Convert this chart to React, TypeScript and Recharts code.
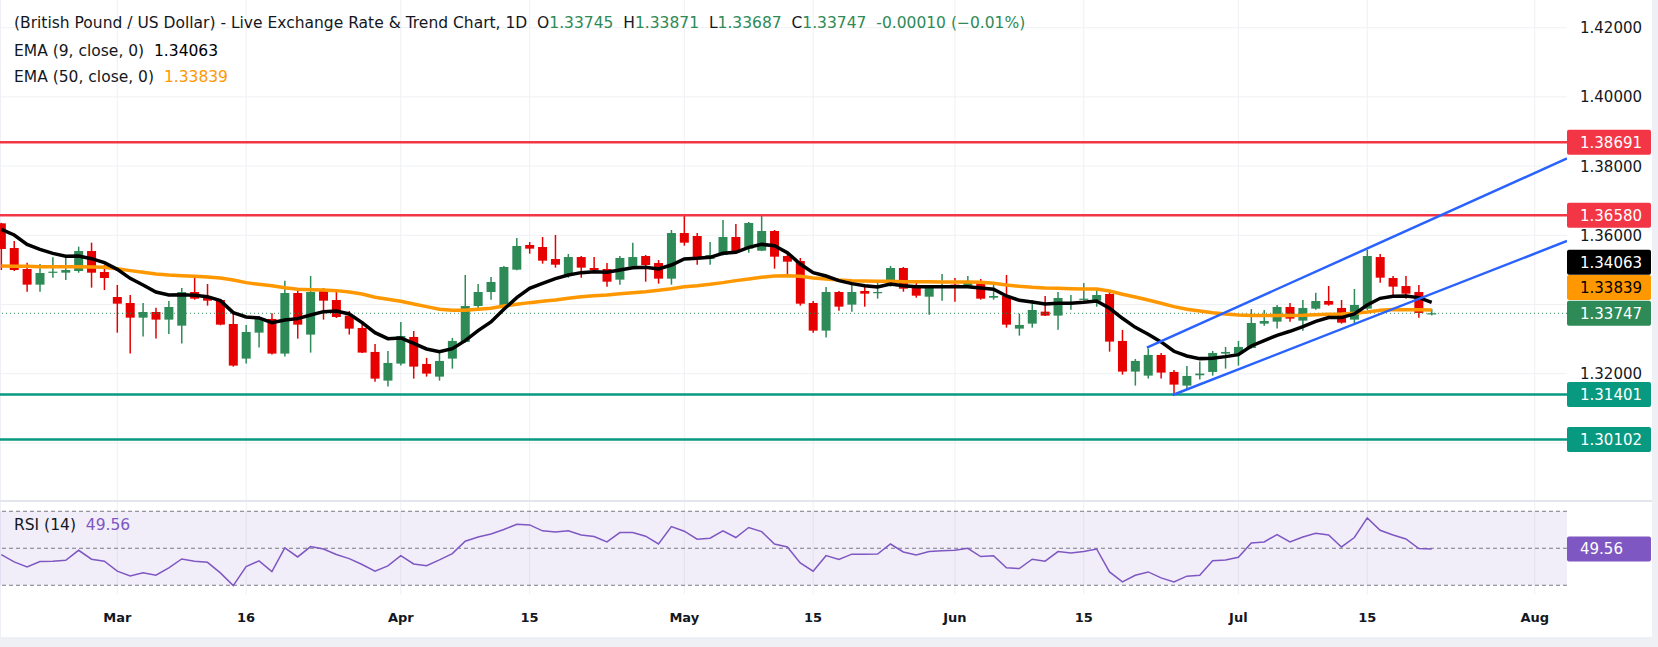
import React from 'react';
import { ComposedChart, Bar, Line, XAxis, YAxis, CartesianGrid, ReferenceLine, ReferenceArea } from 'recharts';

// daily bars, Feb 17 -> Jul 22
const dates = [
  'Feb 17', 'Feb 18', 'Feb 19', 'Feb 20', 'Feb 23', 'Feb 24', 'Feb 25', 'Feb 26', 'Feb 27',
  'Mar 2', 'Mar 3', 'Mar 4', 'Mar 5', 'Mar 6', 'Mar 9', 'Mar 10', 'Mar 11', 'Mar 12', 'Mar 13',
  'Mar 16', 'Mar 17', 'Mar 18', 'Mar 19', 'Mar 20', 'Mar 23', 'Mar 24', 'Mar 25', 'Mar 26', 'Mar 27',
  'Mar 30', 'Mar 31', 'Apr 1', 'Apr 2', 'Apr 3', 'Apr 6', 'Apr 7', 'Apr 8', 'Apr 9', 'Apr 10',
  'Apr 13', 'Apr 14', 'Apr 15', 'Apr 16', 'Apr 17', 'Apr 20', 'Apr 21', 'Apr 22', 'Apr 23', 'Apr 24',
  'Apr 27', 'Apr 28', 'Apr 29', 'Apr 30', 'May 1', 'May 4', 'May 5', 'May 6', 'May 7', 'May 8',
  'May 11', 'May 12', 'May 13', 'May 14', 'May 15', 'May 18', 'May 19', 'May 20', 'May 21', 'May 22',
  'May 25', 'May 26', 'May 27', 'May 28', 'May 29', 'Jun 1', 'Jun 2', 'Jun 3', 'Jun 4', 'Jun 5',
  'Jun 8', 'Jun 9', 'Jun 10', 'Jun 11', 'Jun 12', 'Jun 15', 'Jun 16', 'Jun 17', 'Jun 18', 'Jun 19',
  'Jun 22', 'Jun 23', 'Jun 24', 'Jun 25', 'Jun 26', 'Jun 29', 'Jun 30', 'Jul 1', 'Jul 2', 'Jul 3',
  'Jul 6', 'Jul 7', 'Jul 8', 'Jul 9', 'Jul 10', 'Jul 13', 'Jul 14', 'Jul 15', 'Jul 16', 'Jul 17',
  'Jul 20', 'Jul 21', 'Jul 22',
];

const opens = [
  1.36346, 1.35633, 1.35026, 1.34574, 1.3492, 1.3492, 1.34968, 1.35546, 1.34939, 1.34217,
  1.34044, 1.3362, 1.33784, 1.33563, 1.33389, 1.34361, 1.34207, 1.3413, 1.33437, 1.32436,
  1.33187, 1.33582, 1.32581, 1.34332, 1.3313, 1.3439, 1.3413, 1.33678, 1.33322, 1.32629,
  1.318, 1.32292, 1.33062, 1.32282, 1.31916, 1.32436, 1.32918, 1.33957, 1.34361, 1.33909,
  1.35007, 1.3572, 1.35662, 1.35315, 1.34862, 1.35372, 1.35055, 1.35026, 1.34718, 1.35094,
  1.35401, 1.35199, 1.34747, 1.36066, 1.3598, 1.35315, 1.3543, 1.35951, 1.35614, 1.35556,
  1.36124, 1.35401, 1.35257, 1.34044, 1.33245, 1.34361, 1.33996, 1.3439, 1.34342, 1.34535,
  1.35055, 1.34487, 1.34226, 1.34487, 1.34574, 1.34545, 1.3468, 1.34197, 1.34246, 1.33303,
  1.33447, 1.33794, 1.33678, 1.34015, 1.3414, 1.34111, 1.34303, 1.32947, 1.32061, 1.31945,
  1.32542, 1.32051, 1.31656, 1.31955, 1.32051, 1.32581, 1.32581, 1.32744, 1.33447, 1.33505,
  1.33929, 1.33534, 1.3388, 1.34101, 1.339, 1.33563, 1.3388, 1.35372, 1.34766, 1.34535,
  1.34361, 1.33745,
];
const highs = [
  1.3636, 1.35835, 1.35209, 1.3517, 1.35363, 1.35382, 1.35672, 1.35787, 1.35142, 1.34564,
  1.34274, 1.34044, 1.33909, 1.34101, 1.34477, 1.34853, 1.34593, 1.3415, 1.33746, 1.33409,
  1.33668, 1.33746, 1.34689, 1.34448, 1.34824, 1.34477, 1.3439, 1.33813, 1.33505, 1.3286,
  1.32658, 1.33495, 1.33235, 1.32456, 1.32687, 1.33033, 1.34853, 1.34593, 1.34795, 1.35113,
  1.35922, 1.35806, 1.35951, 1.36009, 1.35459, 1.35401, 1.35372, 1.35199, 1.35401, 1.35787,
  1.3543, 1.35286, 1.36153, 1.36586, 1.36066, 1.35806, 1.36442, 1.36326, 1.36384, 1.36558,
  1.36153, 1.35517, 1.35344, 1.34101, 1.34506, 1.3439, 1.34651, 1.34564, 1.34651, 1.35113,
  1.35084, 1.34622, 1.34535, 1.34881, 1.34766, 1.34824, 1.34737, 1.34651, 1.34853, 1.33736,
  1.3413, 1.34246, 1.34361, 1.34274, 1.34622, 1.34448, 1.3439, 1.33264, 1.32427, 1.32725,
  1.326, 1.32109, 1.32224, 1.3235, 1.32658, 1.32773, 1.32947, 1.33871, 1.33842, 1.33986,
  1.34044, 1.3413, 1.34342, 1.34535, 1.3413, 1.34448, 1.35575, 1.35459, 1.34824, 1.34824,
  1.34564, 1.33871,
];
const lows = [
  1.34997, 1.34968, 1.3437, 1.3437, 1.34776, 1.34709, 1.3492, 1.34487, 1.34419, 1.33187,
  1.32581, 1.33072, 1.33014, 1.33149, 1.3287, 1.3414, 1.33967, 1.33399, 1.32205, 1.32292,
  1.32754, 1.32552, 1.32494, 1.33014, 1.3261, 1.33563, 1.3361, 1.3313, 1.326, 1.31771,
  1.31627, 1.32234, 1.31858, 1.31916, 1.318, 1.32147, 1.329, 1.33852, 1.3414, 1.3388,
  1.3499, 1.35469, 1.3518, 1.35065, 1.34776, 1.34776, 1.34949, 1.34516, 1.34574, 1.3508,
  1.3466, 1.34603, 1.34574, 1.357, 1.35151, 1.35151, 1.3542, 1.35488, 1.35498, 1.35545,
  1.35036, 1.34862, 1.33967, 1.33187, 1.33043, 1.33823, 1.33794, 1.33938, 1.34169, 1.34516,
  1.3437, 1.34197, 1.33707, 1.34111, 1.34082, 1.34516, 1.3414, 1.3414, 1.33332, 1.33101,
  1.33332, 1.33668, 1.33274, 1.33852, 1.34111, 1.33938, 1.32638, 1.31974, 1.31656, 1.31858,
  1.31858, 1.31401, 1.31531, 1.31829, 1.31945, 1.32147, 1.32234, 1.32725, 1.33389, 1.33303,
  1.33505, 1.33245, 1.33852, 1.33967, 1.33447, 1.33447, 1.33842, 1.34632, 1.34265, 1.34169,
  1.3362, 1.33687,
];
const closes = [
  1.35604, 1.34997, 1.34574, 1.3491, 1.34949, 1.34997, 1.35546, 1.3492, 1.34766, 1.34024,
  1.3362, 1.33784, 1.33563, 1.33929, 1.34361, 1.34169, 1.34111, 1.33418, 1.32234, 1.33206,
  1.33582, 1.32581, 1.34332, 1.33418, 1.34361, 1.34111, 1.33639, 1.33303, 1.3261, 1.31858,
  1.32311, 1.33091, 1.32205, 1.32003, 1.32369, 1.32947, 1.33957, 1.34361, 1.34651, 1.35084,
  1.35691, 1.35614, 1.35267, 1.35151, 1.35372, 1.35065, 1.34997, 1.3466, 1.35344, 1.35372,
  1.35142, 1.34747, 1.36066, 1.35787, 1.35315, 1.3543, 1.35951, 1.35546, 1.36355, 1.36124,
  1.35382, 1.35238, 1.34024, 1.33245, 1.34361, 1.33938, 1.34361, 1.34313, 1.34361, 1.35055,
  1.34458, 1.34255, 1.34487, 1.34535, 1.34545, 1.3468, 1.34169, 1.34246, 1.33418, 1.33409,
  1.33842, 1.33678, 1.34188, 1.34044, 1.34169, 1.34274, 1.32928, 1.32061, 1.32369, 1.32542,
  1.32032, 1.31685, 1.31935, 1.32003, 1.326, 1.32629, 1.32773, 1.33466, 1.33524, 1.33929,
  1.33592, 1.339, 1.34101, 1.33996, 1.33476, 1.33986, 1.35401, 1.34776, 1.34516, 1.34313,
  1.33757, 1.33747,
];

const ema9 = [
  1.36173, 1.36009, 1.35739, 1.35595, 1.35479, 1.35393, 1.35402, 1.35325, 1.35209, 1.35017,
  1.34757, 1.34564, 1.34361, 1.34274, 1.34285, 1.34266, 1.34227, 1.34111, 1.33765, 1.3364,
  1.33611, 1.33476, 1.33553, 1.33592, 1.33698, 1.33794, 1.33813, 1.33727, 1.33476, 1.33187,
  1.33014, 1.33033, 1.32879, 1.32715, 1.32638, 1.32725, 1.32956, 1.33245, 1.33495, 1.33861,
  1.34198, 1.34468, 1.34613, 1.34747, 1.34853, 1.34921, 1.34949, 1.3493, 1.34997, 1.35065,
  1.35075, 1.35026, 1.35142, 1.35316, 1.35335, 1.35364, 1.35479, 1.35508, 1.35653, 1.35739,
  1.35701, 1.35499, 1.35171, 1.34921, 1.34824, 1.3469, 1.34603, 1.34545, 1.34507, 1.34593,
  1.34545, 1.34516, 1.34516, 1.34516, 1.34516, 1.34516, 1.34478, 1.34439, 1.34247, 1.34121,
  1.34073, 1.34015, 1.34035, 1.34035, 1.34064, 1.34102, 1.3389, 1.33602, 1.33341, 1.33139,
  1.32918, 1.32648, 1.32513, 1.32436, 1.32446, 1.32494, 1.32552, 1.32802, 1.32956, 1.3311,
  1.33226, 1.33361, 1.33515, 1.33621, 1.33621, 1.33727, 1.33987, 1.34179, 1.34237, 1.34247,
  1.34199, 1.34063,
];
const ema50 = [
  1.35113, 1.35104, 1.35104, 1.35094, 1.35094, 1.35094, 1.35094, 1.35085, 1.35075, 1.35036,
  1.34979, 1.3493, 1.34882, 1.34853, 1.34834, 1.34815, 1.34796, 1.34767, 1.34709, 1.34632,
  1.34584, 1.34545, 1.34487, 1.34439, 1.3443, 1.3442, 1.34401, 1.34362, 1.34304, 1.34208,
  1.3415, 1.34093, 1.34016, 1.33939, 1.33862, 1.33833, 1.33833, 1.33862, 1.3389, 1.33958,
  1.34006, 1.34054, 1.34093, 1.34131, 1.34179, 1.34227, 1.34256, 1.34275, 1.34314, 1.34343,
  1.34372, 1.3441, 1.34458, 1.34516, 1.34545, 1.34584, 1.34632, 1.3469, 1.34738, 1.34786,
  1.34824, 1.34834, 1.34815, 1.34767, 1.34738, 1.34709, 1.3469, 1.3468, 1.3467, 1.3467,
  1.34661, 1.34661, 1.34661, 1.34651, 1.34651, 1.34651, 1.34642, 1.34613, 1.34565, 1.34526,
  1.34497, 1.34478, 1.34468, 1.34459, 1.34449, 1.34449, 1.34391, 1.34295, 1.34218, 1.34131,
  1.34035, 1.33939, 1.33862, 1.33813, 1.33765, 1.33727, 1.33698, 1.33679, 1.33679, 1.33679,
  1.33679, 1.33688, 1.33707, 1.33717, 1.33727, 1.33746, 1.33784, 1.33833, 1.33855, 1.3385,
  1.33845, 1.33839,
];
const rsi = [
  46.6, 42.6, 39.9, 42.8, 43.0, 43.5, 48.9, 44.1, 43.0, 37.6,
  35.0, 36.7, 35.4, 39.4, 44.2, 43.0, 42.4, 36.7, 29.8, 40.1,
  43.2, 37.4, 50.2, 45.3, 50.9, 49.6, 46.6, 44.4, 41.2, 37.6,
  40.5, 46.0, 41.5, 40.6, 43.7, 47.1, 53.8, 56.1, 57.7, 60.1,
  63.0, 62.6, 59.4, 58.8, 59.5, 57.2, 56.3, 53.4, 58.5, 58.5,
  56.5, 52.3, 61.7, 59.2, 54.9, 55.4, 59.4, 55.8, 61.2, 59.0,
  52.3, 50.7, 42.1, 37.6, 46.0, 43.9, 46.8, 46.8, 46.9, 52.3,
  48.0, 46.4, 48.2, 48.7, 48.9, 50.0, 45.5, 46.0, 39.4, 39.0,
  44.1, 43.0, 48.2, 47.5, 48.2, 49.6, 37.2, 31.8, 35.4, 37.2,
  34.0, 31.8, 34.9, 35.4, 43.2, 43.7, 45.1, 52.9, 53.4, 57.4,
  53.4, 56.1, 58.1, 57.2, 50.7, 55.8, 66.4, 59.7, 57.2, 55.0,
  49.8, 49.56,
];

// bar index of each time-axis label (Aug 3 is beyond the last bar)
const timeTickIndex = [9, 19, 31, 41, 53, 63, 74, 84, 96, 106, 119];
const timeTickLabels = ['Mar', '16', 'Apr', '15', 'May', '15', 'Jun', '15', 'Jul', '15', 'Aug'];
const priceTicks = [1.32, 1.36, 1.38, 1.4, 1.42];
const priceGrid = [1.3, 1.32, 1.34, 1.36, 1.38, 1.4, 1.42];
const resistance = [1.38691, 1.3658];
const support = [1.31401, 1.30102];
const upperChannel = [{ x: 88.9, y: 1.32752 }, { x: 121.5, y: 1.3822 }];
const lowerChannel = [{ x: 90.9, y: 1.31384 }, { x: 121.5, y: 1.35835 }];
const lastClose = 1.33747;
const lastEma9 = 1.34063;
const lastEma50 = 1.33839;
const lastRsi = 49.56;

const X_DOMAIN: [number, number] = [-0.1, 121.5];
const PRICE_DOMAIN: [number, number] = [1.28292, 1.42801];

const FONT = '"DejaVu Sans", Verdana, sans-serif';
const TEXT = '#131722';
const UP = '#2e8a57';
const DOWN = '#e60000';
const RED_LINE = '#f23645';
const TEAL = '#089981';
const BLUE = '#2962ff';
const PURPLE = '#7e57c2';
const GRID = '#eef0f4';

const rows = dates.map((date, i) => ({
  i,
  date,
  open: opens[i],
  high: highs[i],
  low: lows[i],
  close: closes[i],
  hl: [lows[i], highs[i]],
  ema9: ema9[i],
  ema50: ema50[i],
  rsi: rsi[i],
}));

function Candle(props: any) {
  const { x, y, width, height, payload } = props;
  if (!payload || x == null || y == null) return null;
  const { open, close, high, low } = payload;
  const top = Math.min(y, y + height);
  const h = Math.abs(height);
  const span = high - low || 1;
  const toY = (v: number) => top + ((high - v) / span) * h;
  const cx = x + width / 2;
  const color = close >= open ? UP : DOWN;
  const bodyTop = toY(Math.max(open, close));
  const bodyBottom = toY(Math.min(open, close));
  return (
    <g>
      <line x1={cx} x2={cx} y1={top} y2={top + h} stroke={color} strokeWidth={1.5} />
      <rect x={x} y={bodyTop} width={width} height={Math.max(1.2, bodyBottom - bodyTop)} fill={color} />
    </g>
  );
}

// price tag drawn in the axis area, right of the plot
const tag = (text: string, bg: string, fg: string, shift = 0) => (props: any) => {
  const vb = props.viewBox;
  if (!vb) return null;
  const x = vb.x + vb.width;
  const cy = vb.y + shift;
  return (
    <g>
      <rect x={x} y={cy - 12.5} width={84} height={25} rx={2} fill={bg} />
      <text x={x + 13} y={cy} dy="0.36em" fill={fg} fontSize={15} fontFamily={FONT} fontWeight={500}>
        {text}
      </text>
    </g>
  );
};

const PriceTick = (p: any) => (
  <text x={p.x + 13} y={p.y} dy="0.36em" fill={TEXT} fontSize={15} fontFamily={FONT}>
    {Number(p.payload.value).toFixed(5)}
  </text>
);

const TimeTick = (p: any) => {
  const k = timeTickIndex.indexOf(p.payload.value);
  return (
    <text x={p.x} y={p.y + 22.5} dy="0.36em" textAnchor="middle" fill={TEXT} fontSize={13} fontWeight={700} fontFamily={FONT}>
      {timeTickLabels[k]}
    </text>
  );
};

const legendRow = (top: number): React.CSSProperties => ({
  position: 'absolute',
  left: 14,
  top: top - 10,
  height: 20,
  lineHeight: '20px',
  fontSize: 15.5,
  fontFamily: FONT,
  color: TEXT,
  whiteSpace: 'pre',
});

export default function App() {
  return (
    <div style={{ position: 'relative', width: 1658, height: 647, background: '#eef0f5', overflow: 'hidden' }}>
      <style>{'body{margin:0}'}</style>
      <div style={{ position: 'absolute', left: 1, top: 0, width: 1651, height: 637, background: '#fff' }} />

      <div style={{ position: 'absolute', left: 0, top: 0 }}>
        <ComposedChart width={1652} height={502} data={rows} margin={{ top: 0, right: 0, bottom: 0, left: 0 }}>
          <CartesianGrid stroke={GRID} horizontalValues={priceGrid} verticalValues={timeTickIndex} />
          <XAxis dataKey="i" type="number" domain={X_DOMAIN} allowDataOverflow hide />
          <YAxis
            orientation="right"
            width={85}
            type="number"
            domain={PRICE_DOMAIN}
            allowDataOverflow
            ticks={priceTicks}
            axisLine={false}
            tickLine={false}
            tickSize={0}
            tickMargin={0}
            tick={PriceTick}
          />
          {resistance.map((v) => (
            <ReferenceLine key={v} y={v} stroke={RED_LINE} strokeWidth={2.5} label={tag(v.toFixed(5), RED_LINE, '#fff')} />
          ))}
          {support.map((v) => (
            <ReferenceLine key={v} y={v} stroke={TEAL} strokeWidth={2.5} label={tag(v.toFixed(5), TEAL, '#fff')} />
          ))}
          <ReferenceLine y={lastClose} stroke={UP} strokeWidth={1} strokeDasharray="1 3" />
          <Bar dataKey="hl" barSize={9} shape={Candle} isAnimationActive={false} />
          <Line dataKey="ema50" stroke="#ff9800" strokeWidth={3.5} dot={false} activeDot={false} isAnimationActive={false} />
          <Line dataKey="ema9" stroke="#000" strokeWidth={3.5} dot={false} activeDot={false} isAnimationActive={false} />
          <ReferenceLine segment={upperChannel} stroke={BLUE} strokeWidth={2.5} ifOverflow="hidden" />
          <ReferenceLine segment={lowerChannel} stroke={BLUE} strokeWidth={2.5} ifOverflow="hidden" />
          <ReferenceLine y={lastEma9} stroke="none" label={tag(lastEma9.toFixed(5), '#000', '#fff', -40)} />
          <ReferenceLine y={lastEma50} stroke="none" label={tag(lastEma50.toFixed(5), '#ff9800', '#000', -22.5)} />
          <ReferenceLine y={lastClose} stroke="none" label={tag(lastClose.toFixed(5), UP, '#fff')} />
        </ComposedChart>
      </div>

      <div style={{ position: 'absolute', left: 0, top: 500, width: 1652, height: 2, background: '#e3e5ec' }} />

      <div style={{ position: 'absolute', left: 0, top: 502 }}>
        <ComposedChart width={1652} height={145} data={rows} margin={{ top: 0, right: 0, bottom: 0, left: 0 }}>
          <CartesianGrid stroke={GRID} horizontal={false} verticalValues={timeTickIndex} />
          <ReferenceArea y1={30} y2={70} fill={PURPLE} fillOpacity={0.1} stroke="none" />
          {[70, 50, 30].map((v) => (
            <ReferenceLine key={v} y={v} stroke="#787b86" strokeDasharray="4 3" strokeWidth={1} />
          ))}
          <XAxis
            dataKey="i"
            type="number"
            domain={X_DOMAIN}
            allowDataOverflow
            ticks={timeTickIndex}
            interval={0}
            height={52.5}
            axisLine={false}
            tickLine={false}
            tickSize={0}
            tickMargin={0}
            tick={TimeTick}
          />
          <YAxis
            orientation="right"
            width={85}
            type="number"
            domain={[25, 75]}
            allowDataOverflow
            ticks={[75]}
            axisLine={false}
            tickLine={false}
            tickSize={0}
            tickMargin={0}
            tick={(p: any) => (
              <text x={p.x + 13} y={p.y} dy="0.36em" fill={TEXT} fontSize={15} fontFamily={FONT}>
                {Number(p.payload.value).toFixed(2)}
              </text>
            )}
          />
          <Line dataKey="rsi" stroke={PURPLE} strokeWidth={1.5} dot={false} activeDot={false} isAnimationActive={false} />
          <ReferenceLine y={lastRsi} stroke="none" label={tag(lastRsi.toFixed(2), PURPLE, '#fff')} />
        </ComposedChart>
      </div>

      <div style={legendRow(23.3)}>
        {'(British Pound / US Dollar) - Live Exchange Rate & Trend Chart, 1D  O'}
        <span style={{ color: UP }}>{opens[opens.length - 1].toFixed(5)}</span>
        {'  H'}
        <span style={{ color: UP }}>{highs[highs.length - 1].toFixed(5)}</span>
        {'  L'}
        <span style={{ color: UP }}>{lows[lows.length - 1].toFixed(5)}</span>
        {'  C'}
        <span style={{ color: UP }}>{closes[closes.length - 1].toFixed(5)}</span>
        <span style={{ color: UP }}>{'  -0.00010 (\u22120.01%)'}</span>
      </div>
      <div style={legendRow(50.7)}>
        {'EMA (9, close, 0)  '}
        <span style={{ color: '#000' }}>{lastEma9.toFixed(5)}</span>
      </div>
      <div style={legendRow(77.3)}>
        {'EMA (50, close, 0)  '}
        <span style={{ color: '#ff9800' }}>{lastEma50.toFixed(5)}</span>
      </div>
      <div style={legendRow(524.7)}>
        {'RSI (14)  '}
        <span style={{ color: PURPLE }}>{lastRsi.toFixed(2)}</span>
      </div>
    </div>
  );
}
